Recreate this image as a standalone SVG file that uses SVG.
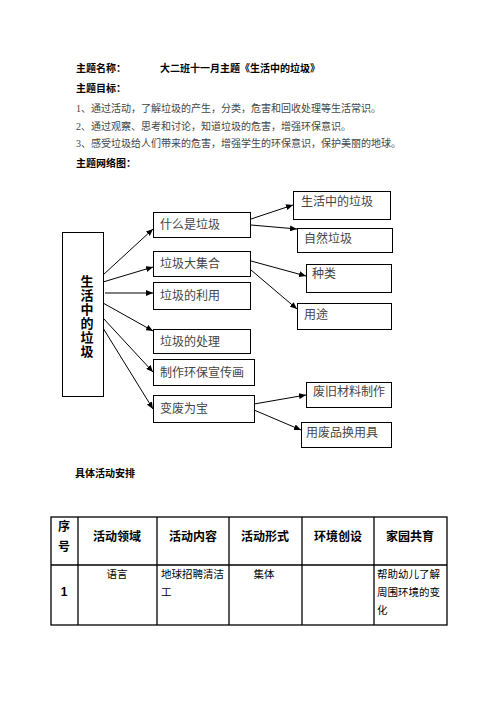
<svg xmlns="http://www.w3.org/2000/svg" width="496" height="702" viewBox="0 0 496 702">
<style>
.bg{fill:#fff}
.hb{font-family:"Liberation Sans","Noto Sans CJK SC",sans-serif;font-weight:bold;font-size:10px;fill:#000}
.ht{font-family:"Liberation Serif","Noto Sans CJK SC",serif;font-size:10px;fill:#444}
.box{fill:#fff;stroke:#000;stroke-width:1}
.bt{font-family:"Liberation Serif","Noto Sans CJK SC",serif;font-size:12px;fill:#444}
.vt{font-family:"Liberation Sans","Noto Sans CJK SC",sans-serif;font-weight:bold;font-size:13px;fill:#000;text-anchor:middle}
.con line{stroke:#000;stroke-width:1;marker-end:url(#ah)}
.tb{fill:none;stroke:#000;stroke-width:1.3}
.th{font-family:"Liberation Sans","Noto Sans CJK SC",sans-serif;font-weight:bold;font-size:12px;fill:#000;text-anchor:middle}
.td{font-family:"Liberation Sans","Noto Sans CJK SC",sans-serif;font-size:10.5px;fill:#000}
</style>
<defs>
<marker id="ah" markerUnits="userSpaceOnUse" markerWidth="8" markerHeight="6" refX="7" refY="3" orient="auto">
<path d="M0,0 L7,3 L0,6 z" fill="#000"/>
</marker>
</defs>
<rect class="bg" x="0" y="0" width="496" height="702"/>

<g id="header">
<text class="hb" x="76" y="72">主题名称：</text>
<text class="hb" x="160" y="72">大二班十一月主题《生活中的垃圾》</text>
<text class="hb" x="76" y="92">主题目标：</text>
<text class="ht" x="76" y="112">1、通过活动，了解垃圾的产生，分类，危害和回收处理等生活常识。</text>
<text class="ht" x="76" y="130">2、通过观察、思考和讨论，知道垃圾的危害，增强环保意识。</text>
<text class="ht" x="76" y="147">3、感受垃圾给人们带来的危害，增强学生的环保意识，保护美丽的地球。</text>
<text class="hb" x="76" y="167">主题网络图：</text>
</g>

<g id="connectors" class="con">
<line x1="103" y1="275" x2="153" y2="229"/>
<line x1="103" y1="282" x2="153" y2="267"/>
<line x1="105" y1="293" x2="153" y2="293"/>
<line x1="103" y1="303" x2="153" y2="331"/>
<line x1="103" y1="318" x2="153" y2="372"/>
<line x1="103" y1="328" x2="153" y2="409"/>
<line x1="251" y1="219" x2="293" y2="205"/>
<line x1="251" y1="225" x2="297" y2="229"/>
<line x1="251" y1="261" x2="306" y2="276"/>
<line x1="251" y1="270" x2="297" y2="309"/>
<line x1="254" y1="404" x2="306" y2="395"/>
<line x1="254" y1="410" x2="301" y2="430"/>
</g>

<g id="root">
<rect class="box" x="62.5" y="232.5" width="41" height="164"/>
<text class="vt" x="87" y="286">生</text>
<text class="vt" x="87" y="300">活</text>
<text class="vt" x="87" y="314">中</text>
<text class="vt" x="87" y="328">的</text>
<text class="vt" x="87" y="342">垃</text>
<text class="vt" x="87" y="356">圾</text>
</g>

<g id="n-what"><rect class="box" x="153.5" y="212.5" width="97" height="25"/><text class="bt" x="160" y="229">什么是垃圾</text></g>
<g id="n-collect"><rect class="box" x="153.5" y="251.5" width="97" height="25"/><text class="bt" x="160" y="268">垃圾大集合</text></g>
<g id="n-use"><rect class="box" x="153.5" y="282.5" width="97" height="27"/><text class="bt" x="160" y="300">垃圾的利用</text></g>
<g id="n-process"><rect class="box" x="153.5" y="329.5" width="97" height="24"/><text class="bt" x="160" y="346">垃圾的处理</text></g>
<g id="n-poster"><rect class="box" x="153.5" y="359.5" width="101" height="26"/><text class="bt" x="160" y="377">制作环保宣传画</text></g>
<g id="n-treasure"><rect class="box" x="153.5" y="395.5" width="101" height="27"/><text class="bt" x="160" y="413">变废为宝</text></g>

<g id="n-life"><rect class="box" x="293.5" y="191.5" width="97" height="28"/><text class="bt" x="301" y="206">生活中的垃圾</text></g>
<g id="n-nature"><rect class="box" x="297.5" y="228.5" width="95" height="24"/><text class="bt" x="304" y="243">自然垃圾</text></g>
<g id="n-kind"><rect class="box" x="306.5" y="264.5" width="85" height="28"/><text class="bt" x="312" y="278">种类</text></g>
<g id="n-purpose"><rect class="box" x="297.5" y="303.5" width="94" height="26"/><text class="bt" x="304" y="319">用途</text></g>
<g id="n-make"><rect class="box" x="306.5" y="382.5" width="85" height="25"/><text class="bt" x="313" y="396">废旧材料制作</text></g>
<g id="n-swap"><rect class="box" x="301.5" y="422.5" width="90" height="25"/><text class="bt" x="306" y="437">用废品换用具</text></g>

<g id="table">
<text class="hb" x="75" y="477">具体活动安排</text>
<rect class="tb" x="51" y="517" width="396" height="108"/>
<line class="tb" x1="51" y1="565" x2="447" y2="565"/>
<line class="tb" x1="78" y1="517" x2="78" y2="625"/>
<line class="tb" x1="157" y1="517" x2="157" y2="625"/>
<line class="tb" x1="229" y1="517" x2="229" y2="625"/>
<line class="tb" x1="302" y1="517" x2="302" y2="625"/>
<line class="tb" x1="374" y1="517" x2="374" y2="625"/>
<text class="th" x="64" y="531">序</text>
<text class="th" x="64" y="551">号</text>
<text class="th" x="117" y="541">活动领域</text>
<text class="th" x="193" y="541">活动内容</text>
<text class="th" x="265" y="541">活动形式</text>
<text class="th" x="338" y="541">环境创设</text>
<text class="th" x="410" y="541">家园共育</text>
<text class="th" x="64" y="596">1</text>
<text class="td" x="117" y="578" text-anchor="middle">语言</text>
<text class="td" x="161" y="578">地球招聘清洁</text>
<text class="td" x="161" y="596">工</text>
<text class="td" x="264" y="578" text-anchor="middle">集体</text>
<text class="td" x="377" y="578">帮助幼儿了解</text>
<text class="td" x="377" y="596">周围环境的变</text>
<text class="td" x="377" y="614">化</text>
</g>
</svg>
